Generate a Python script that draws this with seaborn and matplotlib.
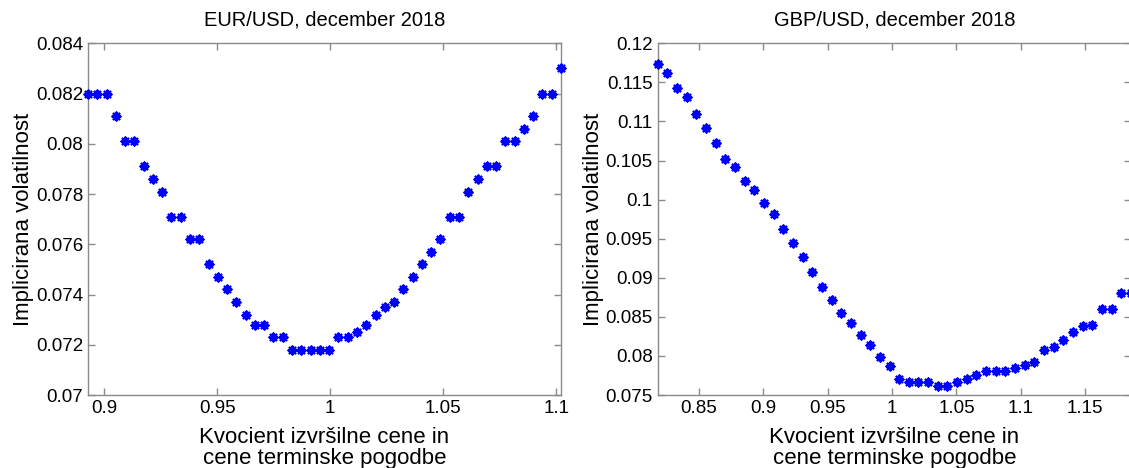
import matplotlib
matplotlib.use("Agg")
import matplotlib.pyplot as plt
import seaborn as sns
import pandas as pd

# EUR/USD, december 2018: strike/forward ratio and implied volatility
eur_ratio = [
    0.8929, 0.8970, 0.9011, 0.9052, 0.9093, 0.9134, 0.9175, 0.9216, 0.9257, 0.9298,
    0.9339, 0.9380, 0.9421, 0.9462, 0.9503, 0.9544, 0.9585, 0.9626, 0.9667, 0.9708,
    0.9749, 0.9790, 0.9831, 0.9872, 0.9913, 0.9954, 0.9995, 1.0036, 1.0077, 1.0118,
    1.0159, 1.0200, 1.0241, 1.0282, 1.0323, 1.0364, 1.0405, 1.0446, 1.0487, 1.0528,
    1.0569, 1.0610, 1.0651, 1.0692, 1.0733, 1.0774, 1.0815, 1.0856, 1.0897, 1.0938,
    1.0979, 1.1020,
]
eur_vol = [
    0.0820, 0.0820, 0.0820, 0.0811, 0.0801, 0.0801, 0.0791, 0.0786, 0.0781, 0.0771,
    0.0771, 0.0762, 0.0762, 0.0752, 0.0747, 0.0742, 0.0737, 0.0732, 0.0728, 0.0728,
    0.0723, 0.0723, 0.0718, 0.0718, 0.0718, 0.0718, 0.0718, 0.0723, 0.0723, 0.0725,
    0.0728, 0.0732, 0.0735, 0.0737, 0.0742, 0.0747, 0.0752, 0.0757, 0.0762, 0.0771,
    0.0771, 0.0781, 0.0786, 0.0791, 0.0791, 0.0801, 0.0801, 0.0806, 0.0811, 0.0820,
    0.0820, 0.0830,
]

# GBP/USD, december 2018
gbp_ratio = [
    0.8180, 0.8255, 0.8330, 0.8405, 0.8480, 0.8555, 0.8630, 0.8705, 0.8780, 0.8855,
    0.8930, 0.9005, 0.9080, 0.9155, 0.9230, 0.9305, 0.9380, 0.9455, 0.9530, 0.9605,
    0.9680, 0.9755, 0.9830, 0.9905, 0.9980, 1.0055, 1.0130, 1.0205, 1.0280, 1.0355,
    1.0430, 1.0505, 1.0580, 1.0655, 1.0730, 1.0805, 1.0880, 1.0955, 1.1030, 1.1105,
    1.1180, 1.1255, 1.1330, 1.1405, 1.1480, 1.1555, 1.1630, 1.1705, 1.1780, 1.1855,
]
gbp_vol = [
    0.1173, 0.1162, 0.1143, 0.1131, 0.1110, 0.1092, 0.1072, 0.1052, 0.1042, 0.1024,
    0.1012, 0.0996, 0.0982, 0.0962, 0.0944, 0.0927, 0.0907, 0.0888, 0.0872, 0.0855,
    0.0842, 0.0827, 0.0814, 0.0799, 0.0787, 0.0771, 0.0767, 0.0767, 0.0767, 0.0762,
    0.0762, 0.0767, 0.0771, 0.0776, 0.0781, 0.0781, 0.0781, 0.0784, 0.0789, 0.0792,
    0.0807, 0.0811, 0.0820, 0.0830, 0.0838, 0.0840, 0.0860, 0.0860, 0.0880, 0.0880,
]

titles = ["EUR/USD, december 2018", "GBP/USD, december 2018"]
x_label = "Kvocient izvršilne cene in\ncene terminske pogodbe"
y_label = "Implicirana volatilnost"

eur_xticks = [0.9, 0.95, 1.0, 1.05, 1.1]
eur_yticks = [0.070, 0.072, 0.074, 0.076, 0.078, 0.080, 0.082, 0.084]
gbp_xticks = [0.85, 0.9, 0.95, 1.0, 1.05, 1.1, 1.15]
gbp_yticks = [0.075, 0.080, 0.085, 0.090, 0.095, 0.100, 0.105, 0.110, 0.115, 0.120]

sns.set_theme(style="white")
plt.rcParams['font.family'] = ['Liberation Sans', 'DejaVu Sans']

W, H = 1129, 468
fig = plt.figure(figsize=(W / 100, H / 100), dpi=100)
bottom = 1 - 395 / H
height = (395 - 43.3) / H
ax1 = fig.add_axes([88 / W, bottom, (561 - 88) / W, height])
ax2 = fig.add_axes([657.7 / W, bottom, (1131 - 657.7) / W, height])

frames = [
    (ax1, pd.DataFrame({"ratio": eur_ratio, "vol": eur_vol}), eur_xticks, eur_yticks,
     (min(eur_ratio), max(eur_ratio)), (0.070, 0.084), 1.3),
    (ax2, pd.DataFrame({"ratio": gbp_ratio, "vol": gbp_vol}), gbp_xticks, gbp_yticks,
     (min(gbp_ratio), max(gbp_ratio)), (0.075, 0.120), 1.5),
]

spine_gray = "#8a8a8a"
for (ax, df, xt, yt, xl, yl, ypad), title in zip(frames, titles):
    sns.scatterplot(data=df, x="ratio", y="vol", ax=ax, marker=(8, 2, 0), s=30,
                    color="#0000ff", linewidth=1.8, clip_on=False, zorder=3)
    ax.set_xlim(*xl)
    ax.set_ylim(*yl)
    ax.set_xticks(xt)
    ax.set_yticks(yt)
    ax.set_xticklabels([f"{v:g}" for v in xt])
    ax.set_yticklabels([f"{v:g}" for v in yt])
    ax.tick_params(direction="in", length=5, width=1, color=spine_gray,
                   labelsize=13.5, labelcolor="black", top=True, right=True,
                   bottom=True, left=True, pad=3.5)
    for sp in ax.spines.values():
        sp.set_color(spine_gray)
        sp.set_linewidth(1)
        sp.set_visible(True)
    ax.set_title(title, fontsize=14.5, pad=12.5, color="black")
    ax.set_xlabel(x_label, fontsize=16, labelpad=7, color="black", linespacing=1.05)
    ax.set_ylabel(y_label, fontsize=16, labelpad=ypad, color="black")
    ax.grid(False)

fig.savefig("out.png", dpi=100)
